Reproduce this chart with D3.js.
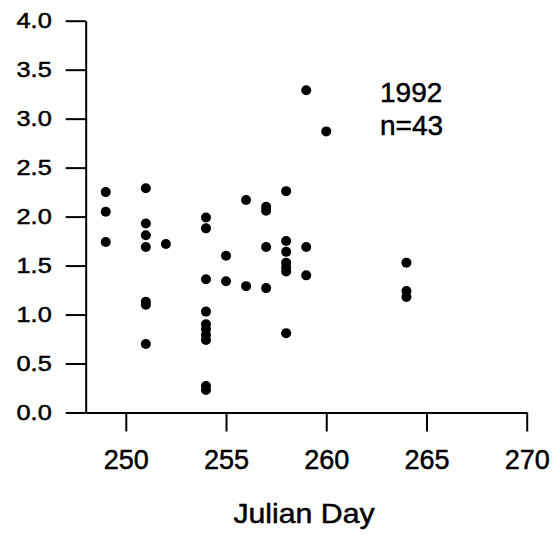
<!DOCTYPE html>
<meta charset="utf-8">
<head>
    <title>Julian Day 1992</title>
</head>
<style>
    body { margin: 0; background: #fff; }
    text { font-family: "Liberation Sans", Arial, sans-serif; fill: #000; stroke: #000; stroke-width: 0.5px; }
    .axis path, .axis line { stroke: #000; stroke-width: 2px; }
</style>
<body>
<script src="https://d3js.org/d3.v7.min.js"></script>
<script>
    // data
    var days = [249, 249, 249,
        251, 251, 251, 251, 251, 251, 251,
        252,
        254, 254, 254, 254, 254, 254, 254, 254, 254, 254,
        255, 255,
        256, 256,
        257, 257, 257, 257,
        258, 258, 258, 258, 258, 258, 258,
        259, 259, 259,
        260,
        264, 264, 264];
    var values = [2.25, 2.05, 1.74,
        2.29, 1.93, 1.81, 1.69, 1.13, 1.10, 0.70,
        1.72,
        1.99, 1.88, 1.36, 1.03, 0.90, 0.85, 0.79, 0.74, 0.27, 0.23,
        1.60, 1.34,
        2.17, 1.29,
        2.10, 2.06, 1.69, 1.27,
        2.26, 1.75, 1.64, 1.53, 1.48, 1.44, 0.81,
        3.29, 1.69, 1.40,
        2.87,
        1.53, 1.24, 1.18];
    var xTicks = [250, 255, 260, 265, 270];
    var yTicks = [0, 0.5, 1, 1.5, 2, 2.5, 3, 3.5, 4];
    var legendLines = ["1992", "n=43"];
    var xTitle = "Julian Day";

    var width = 560, height = 535;
    var margin = {top: 20.7, left: 85.7, right: 33.3, bottom: 122.5};

    var svg = d3.select("body").append("svg")
        .attr("width", width)
        .attr("height", height);

    var x = d3.scaleLinear().domain([248, 270]).range([margin.left, width - margin.right]);
    var y = d3.scaleLinear().domain([0, 4]).range([height - margin.bottom, margin.top]);

    var gx = svg.append("g")
        .attr("class", "axis")
        .attr("transform", "translate(0," + y(0) + ")")
        .call(d3.axisBottom(x).tickValues(xTicks).tickSize(19).tickSizeOuter(0).tickPadding(18)
            .tickFormat(d3.format("d")));
    gx.selectAll("text").style("font-size", "27px");

    var gy = svg.append("g")
        .attr("class", "axis")
        .attr("transform", "translate(" + x(248) + ",0)")
        .call(d3.axisLeft(y).tickValues(yTicks).tickSize(20).tickSizeOuter(0).tickPadding(14)
            .tickFormat(d3.format(".1f")));
    gy.selectAll("text")
        .style("font-size", "22px")
        .attr("x", -34 / 1.15)
        .attr("transform", "scale(1.15,1)");

    svg.selectAll("circle.pt")
        .data(days)
        .enter().append("circle")
        .attr("class", "pt")
        .attr("cx", function (d) { return x(d); })
        .attr("cy", function (d, i) { return y(values[i]); })
        .attr("r", 5)
        .attr("fill", "#000");

    svg.selectAll("text.legend")
        .data(legendLines)
        .enter().append("text")
        .attr("class", "legend")
        .attr("x", 380)
        .attr("y", function (d, i) { return 102 + i * 33; })
        .style("font-size", "28px")
        .text(function (d) { return d; });

    svg.append("text")
        .attr("transform", "translate(304,523) scale(1.08,1)")
        .attr("text-anchor", "middle")
        .style("font-size", "28px")
        .text(xTitle);
</script>
</body>
</html>
